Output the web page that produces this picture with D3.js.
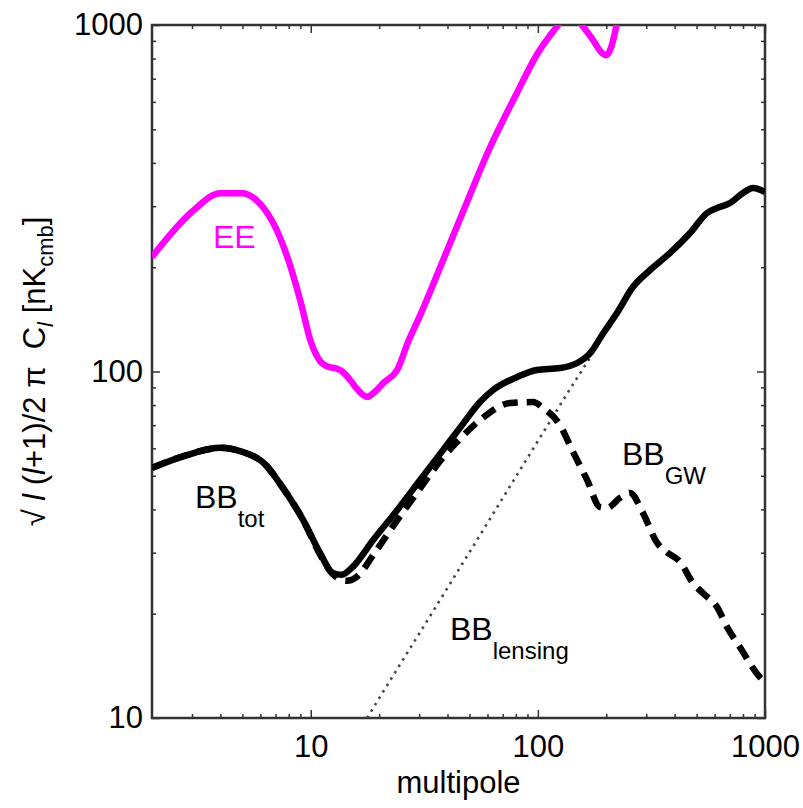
<!DOCTYPE html>
<html>
<head>
<meta charset="utf-8">
<script src="https://cdn.jsdelivr.net/npm/d3@7"></script>
<style>
  body { margin: 0; background: #fff; }
  text { font-family: "Liberation Sans", Arial, Helvetica, sans-serif; }
</style>
</head>
<body>
<div id="chart"></div>
<script>
const width = 803, height = 808;
const margin = { left: 152, right: 38, top: 25, bottom: 90 };

// tick values
const xMajor = [10, 100, 1000];
const xMinor = [3, 4, 5, 6, 7, 8, 9, 20, 30, 40, 50, 60, 70, 80, 90, 200, 300, 400, 500, 600, 700, 800, 900];
const yMajor = [10, 100, 1000];
const yMinor = [20, 30, 40, 50, 60, 70, 80, 90, 200, 300, 400, 500, 600, 700, 800, 900];

// EE spectrum (magenta)
const eeL   = [2, 3, 4, 5, 6, 7, 8, 9, 10, 11, 12, 13, 14, 15, 16, 17.7, 19, 21, 24, 27, 30, 40, 50, 60, 80, 100, 120, 138, 156, 175, 190, 200, 210, 222, 232];
const eeVal = [214, 289, 327, 327, 304, 260, 208, 160, 122, 107, 103, 102, 99, 94, 89, 84.5, 87, 93, 101, 123, 143, 225, 321, 427, 628, 830, 980, 1090, 1000, 905, 835, 818, 860, 1000, 1150];

// BB total (solid black)
const totL   = [2, 2.85, 4, 5, 6.2, 7.5, 9.25, 11, 12.5, 13.7, 15.3, 18.8, 24, 30.3, 38.2, 46.8, 55, 63.5, 81, 99, 125, 149, 170, 194, 223, 262, 312, 382, 468, 556, 615, 702, 800, 886, 1000];
const totVal = [52.7, 57.4, 60.2, 58.6, 54.5, 46.4, 37.3, 29.9, 26.2, 25.9, 27.3, 32.6, 39.8, 48.6, 59.3, 70.6, 81, 88.4, 96.4, 101, 102.3, 105.8, 113, 129, 147.5, 175.3, 196.3, 219.8, 251, 286.7, 296.4, 306.4, 327.5, 338.5, 329.6];

// BB from gravity waves (dashed)
const gwL   = [2, 2.85, 4, 5, 6.2, 7.5, 9.25, 11, 12.5, 14.4, 16, 19, 24, 30.3, 38.2, 44, 55.6, 75.4, 95.2, 105.4, 125, 142.8, 164.6, 187.8, 201.6, 230, 254.6, 290, 335, 370, 423, 482, 534, 615, 681, 776, 951, 1000];
const gwVal = [52.7, 57.4, 60.2, 58.6, 54.5, 46.4, 37.3, 29.6, 26, 24.9, 25.6, 29.8, 37.2, 46, 56.5, 62.6, 72.4, 81.1, 81.6, 78.5, 70.1, 58.6, 48.7, 40.6, 40.4, 43.2, 44.6, 39.1, 32, 30.1, 28.2, 24.5, 22.9, 20.9, 18.3, 16, 13.1, 12.7];

// BB from lensing (dotted)
const lensL   = [17.7, 20, 30, 50, 100, 150, 172];
const lensVal = [10, 11.4, 17.5, 30.1, 63, 96.6, 111];

const svg = d3.select('#chart')
  .append('svg')
  .attr('width', width)
  .attr('height', height);

const x = d3.scaleLog()
  .domain([2, 1000])
  .range([margin.left, width - margin.right]);
const y = d3.scaleLog()
  .domain([10, 1000])
  .range([height - margin.bottom, margin.top]);

const x0 = x.range()[0], x1 = x.range()[1];
const y0 = y.range()[1], y1 = y.range()[0];

svg.append('clipPath')
  .attr('id', 'plot-clip')
  .append('rect')
  .attr('x', x0).attr('y', y0)
  .attr('width', x1 - x0).attr('height', y1 - y0);

// ticks on all four sides, pointing inward
function tickAxis(axisFn, scale, values, size, labels) {
  return axisFn(scale)
    .tickValues(values)
    .tickSize(-size)
    .tickSizeOuter(0)
    .tickFormat(labels ? d3.format('d') : '');
}

const axes = [
  { fn: d3.axisBottom, s: x, t: `translate(0,${y1})`, major: xMajor, minor: xMinor, labels: true, side: 'bottom' },
  { fn: d3.axisTop, s: x, t: `translate(0,${y0})`, major: xMajor, minor: xMinor, labels: false, side: 'top' },
  { fn: d3.axisLeft, s: y, t: `translate(${x0},0)`, major: yMajor, minor: yMinor, labels: true, side: 'left' },
  { fn: d3.axisRight, s: y, t: `translate(${x1},0)`, major: yMajor, minor: yMinor, labels: false, side: 'right' }
];

axes.forEach(a => {
  const gMinor = svg.append('g').attr('transform', a.t)
    .call(tickAxis(a.fn, a.s, a.minor, 4, false));
  const gMajor = svg.append('g').attr('transform', a.t)
    .call(tickAxis(a.fn, a.s, a.major, 8, a.labels));
  [gMinor, gMajor].forEach(g => {
    g.select('.domain').remove();
    g.selectAll('line').attr('stroke', '#333').attr('stroke-width', 1.5);
  });
  const labels = gMajor.selectAll('text')
    .style('font-size', '31px')
    .style('fill', '#000');
  if (a.side === 'bottom') labels.attr('y', 17).attr('dy', '0.71em');
  if (a.side === 'left') labels.attr('x', -9);
});

// frame
svg.append('rect')
  .attr('x', x0).attr('y', y0)
  .attr('width', x1 - x0).attr('height', y1 - y0)
  .attr('fill', 'none')
  .attr('stroke', '#333')
  .attr('stroke-width', 2.5);

const line = d3.line()
  .x(d => x(d[0]))
  .y(d => y(d[1]))
  .curve(d3.curveMonotoneX);

const plot = svg.append('g').attr('clip-path', 'url(#plot-clip)');

plot.append('path')
  .datum(d3.zip(lensL, lensVal))
  .attr('d', line)
  .attr('fill', 'none')
  .attr('stroke', '#444')
  .attr('stroke-width', 2.6)
  .attr('stroke-dasharray', '2.5,5');

plot.append('path')
  .datum(d3.zip(gwL, gwVal))
  .attr('d', line)
  .attr('fill', 'none')
  .attr('stroke', '#000')
  .attr('stroke-width', 6.5)
  .attr('stroke-dasharray', '15,9');

plot.append('path')
  .datum(d3.zip(totL, totVal))
  .attr('d', line)
  .attr('fill', 'none')
  .attr('stroke', '#000')
  .attr('stroke-width', 6.5)
  .attr('stroke-linejoin', 'round');

plot.append('path')
  .datum(d3.zip(eeL, eeVal))
  .attr('d', line)
  .attr('fill', 'none')
  .attr('stroke', '#ff00ff')
  .attr('stroke-width', 6.5)
  .attr('stroke-linejoin', 'round');

// curve labels
function label(px, py, main, sub, color) {
  const t = svg.append('text')
    .attr('x', px).attr('y', py)
    .style('font-size', '32px')
    .style('fill', color);
  t.append('tspan').text(main);
  if (sub) {
    t.append('tspan').text(sub)
      .attr('dy', 19)
      .style('font-size', '24px');
  }
}
label(213, 248, 'EE', null, '#ff00ff');
label(195, 508, 'BB', 'tot', '#000');
label(622, 465, 'BB', 'GW', '#000');
label(450, 640, 'BB', 'lensing', '#000');

// axis titles
svg.append('text')
  .attr('x', (x0 + x1) / 2)
  .attr('y', 793)
  .attr('text-anchor', 'middle')
  .style('font-size', '31px')
  .style('fill', '#000')
  .text('multipole');

const yTitle = svg.append('text')
  .attr('transform', `translate(45,${(y0 + y1) / 2}) rotate(-90)`)
  .attr('text-anchor', 'middle')
  .style('font-size', '31px')
  .style('fill', '#000');
yTitle.append('tspan').text('\u221A ');
yTitle.append('tspan').text('l').style('font-style', 'italic');
yTitle.append('tspan').text(' (');
yTitle.append('tspan').text('l').style('font-style', 'italic');
yTitle.append('tspan').text('+1)/2 \u03C0\u00A0\u00A0C');
yTitle.append('tspan').text('l').style('font-style', 'italic').style('font-size', '22px').attr('dy', 8);
yTitle.append('tspan').text(' [nK').attr('dy', -8);
yTitle.append('tspan').text('cmb').style('font-size', '22px').attr('dy', 8);
yTitle.append('tspan').text(']').attr('dy', -8);
</script>
</body>
</html>
